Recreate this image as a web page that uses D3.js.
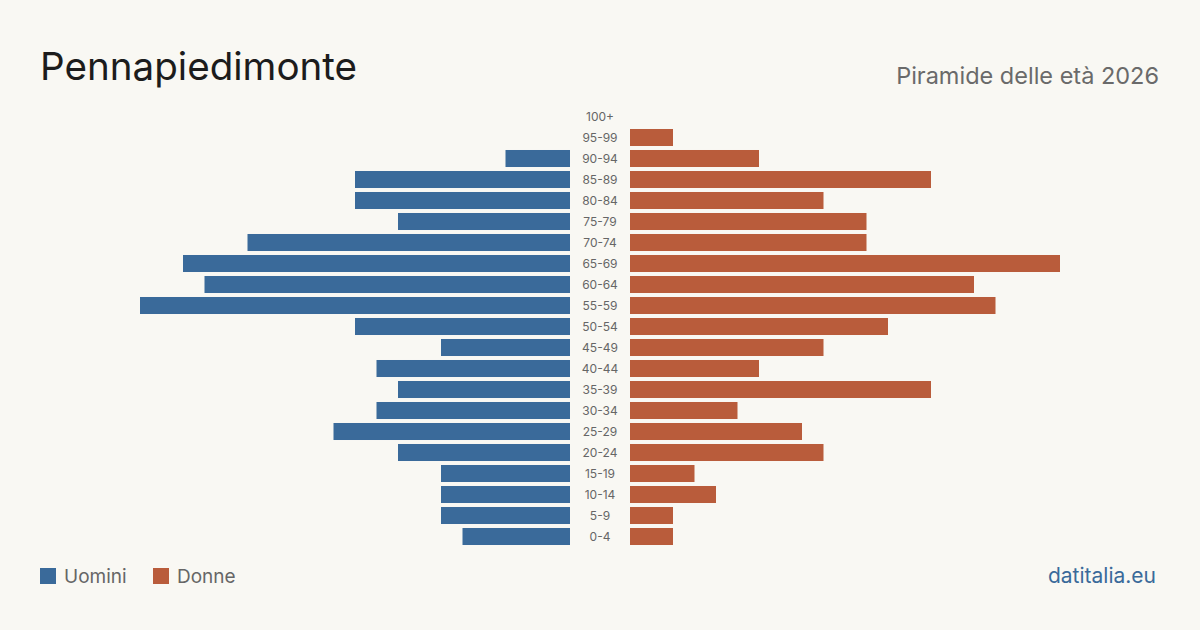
<!DOCTYPE html>
<meta charset="utf-8">
<style>
  body { margin: 0; background: #f9f8f3; }
  text { font-family: Inter, "Noto Sans", sans-serif; }
</style>

<svg width="1200" height="630"></svg>
<script src="https://cdn.jsdelivr.net/npm/d3@7"></script>

<script>
const svg = d3.select("svg"),
  width = +svg.attr("width"),
  height = +svg.attr("height");

const ageGroups = ["100+", "95-99", "90-94", "85-89", "80-84", "75-79", "70-74", "65-69",
  "60-64", "55-59", "50-54", "45-49", "40-44", "35-39", "30-34", "25-29",
  "20-24", "15-19", "10-14", "5-9", "0-4"];
const men =   [0, 0, 3, 10, 10, 8, 15, 18, 17, 20, 10, 6, 9, 8, 9, 11, 8, 6, 6, 6, 5];
const women = [0, 2, 6, 14, 9, 11, 11, 20, 16, 17, 12, 9, 6, 14, 5, 8, 9, 3, 4, 2, 2];

const blue = "#3a6a9a", red = "#b95c3b";

svg.append("rect").attr("width", width).attr("height", height).attr("fill", "#f9f8f3");

const y = d3.scaleBand()
  .domain(ageGroups)
  .range([106, 547])
  .paddingInner(0.19)
  .paddingOuter(0.095);

const xLen = d3.scaleLinear().domain([0, 20]).range([0, 430]);
const leftEdge = 570, rightEdge = 630, mid = 600;

svg.append("g")
  .selectAll("rect")
  .data(ageGroups)
  .enter().append("rect")
    .attr("x", (d, i) => leftEdge - xLen(men[i]))
    .attr("y", d => y(d))
    .attr("width", (d, i) => xLen(men[i]))
    .attr("height", y.bandwidth())
    .attr("fill", blue);

svg.append("g")
  .selectAll("rect")
  .data(ageGroups)
  .enter().append("rect")
    .attr("x", rightEdge)
    .attr("y", d => y(d))
    .attr("width", (d, i) => xLen(women[i]))
    .attr("height", y.bandwidth())
    .attr("fill", red);

svg.append("g")
  .selectAll("text")
  .data(ageGroups)
  .enter().append("text")
    .text(d => d)
    .attr("x", mid)
    .attr("y", d => y(d) + y.bandwidth() / 2)
    .attr("dy", "0.35em")
    .attr("text-anchor", "middle")
    .attr("font-size", 12)
    .attr("fill", "#666");

// titles
svg.append("text")
  .text("Pennapiedimonte")
  .attr("x", 40).attr("y", 80)
  .attr("font-size", 38.6)
  .attr("fill", "#1c1c1c");

svg.append("text")
  .text("Piramide delle età 2026")
  .attr("x", 1159).attr("y", 84)
  .attr("text-anchor", "end")
  .attr("font-size", 23.5)
  .attr("fill", "#6a6a6a");

// legend
const legend = [{ label: "Uomini", color: blue, x: 40 }, { label: "Donne", color: red, x: 153 }];
const lg = svg.append("g")
  .selectAll("g")
  .data(legend)
  .enter().append("g");
lg.append("rect")
  .attr("x", d => d.x).attr("y", 568)
  .attr("width", 16).attr("height", 16)
  .attr("fill", d => d.color);
lg.append("text")
  .text(d => d.label)
  .attr("x", d => d.x + 24).attr("y", 583)
  .attr("font-size", 19)
  .attr("fill", "#666");

svg.append("text")
  .text("datitalia.eu")
  .attr("x", 1156).attr("y", 583)
  .attr("text-anchor", "end")
  .attr("font-size", 21)
  .attr("fill", blue);
</script>
